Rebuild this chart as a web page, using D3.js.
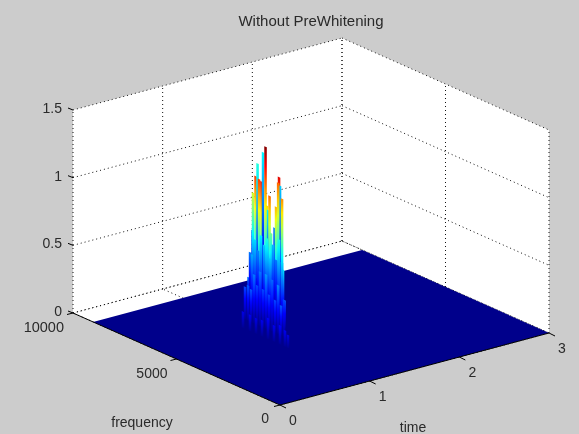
<!DOCTYPE html>
<html><head><meta charset="utf-8">
<script src="https://cdn.jsdelivr.net/npm/d3@7"></script>
<style>html,body{margin:0;padding:0;background:#ccc}svg{display:block;filter:blur(.35px)}text{font-family:"Liberation Sans",Arial,sans-serif;fill:#2a2a2a}</style>
</head><body><script>
const timeTicks=[0,1,2,3];
const freqTicks=[0,5000,10000];
const zTicks=[0,0.5,1,1.5];
const zTickLabels=["0","0.5","1","1.5"];
const surfaceTimeMax=3, surfaceFreqMax=9030;
// spectrogram ridges: [time, frequency, magnitude, colour value]
const ridgeBack=[
[1.4,7583,.18,.3],[1.4,7510,.37,.3],[1.4,7390,.54,.3],[1.4,7367,.82,.72],[1.4,7245,.95,1.0],
[1.4,7148,1.05,.5],[1.4,7076,.94,1.0],[1.4,6960,.93,1.05],[1.4,6883,1.15,.45],[1.4,6763,1.2,1.22],
[1.4,6690,.77,.8],[1.4,6641,.74,.45],[1.4,6569,.85,.95],[1.4,6496,.58,.6],[1.4,6327,.63,.3],
[1.4,6255,.79,.85],[1.4,6110,1.02,1.1],[1.39,6110,.98,.95],[1.4,6062,.96,.4],[1.4,5965,.87,.9],[1.4,5917,.35,.45]];
const ridgeMid=[
[1.25,6767,.43,.36],[1.25,6622,.55,.42],[1.25,6477,.48,.32],[1.25,6332,.6,.45],[1.25,6187,.54,.4],
[1.25,6042,.6,.5],[1.25,5897,.46,.4],[1.25,5752,.57,.38],[1.25,5607,.47,.3],[1.25,5463,.63,.5],[1.25,5318,.47,.42],[1.25,5197,.2,.3]];
const ridgeFront=[
[1.1,6453,.24,.24],[1.1,6308,.26,.26],[1.1,6163,.24,.26],[1.1,6018,.36,.3],[1.1,5873,.29,.24],[1.1,5728,.4,.3],
[1.1,5583,.28,.24],[1.1,5439,.4,.34],[1.1,5294,.26,.24],[1.1,5149,.38,.28],[1.1,5004,.24,.24],[1.1,4859,.36,.32],[1.1,4714,.22,.26],[1.1,4569,.27,.24]];
const ridgeLow=[
[.95,5902,.12,.12],[.95,5564,.12,.13],[.95,5274,.115,.12],[.95,4985,.12,.13],[.95,4695,.155,.15],[.95,4405,.12,.13],[.95,4115,.14,.15],[.95,3874,.12,.13],[.95,3730,.095,.11]];

const W=579,H=434;
const O=[280,405];
const tx=d3.scaleLinear().domain([0,3]).range([0,269]);
const ty=d3.scaleLinear().domain([0,3]).range([0,-72]);
const fx=d3.scaleLinear().domain([0,10000]).range([0,-207]);
const fy=d3.scaleLinear().domain([0,10000]).range([0,-92]);
const zy=d3.scaleLinear().domain([0,1.5]).range([0,-203]);
const P=(t,f,z=0)=>[O[0]+tx(t)+fx(f),O[1]+ty(t)+fy(f)+zy(z)];
const jetStops=[[0,[0,0,143]],[.125,[0,0,255]],[.375,[0,255,255]],[.625,[255,255,0]],[.875,[255,0,0]],[1,[128,0,0]]];
const jetS=d3.scaleLinear().domain(jetStops.map(d=>d[0])).range(jetStops.map(d=>d3.rgb(...d[1]).toString())).clamp(true);
const jet=v=>jetS(v/1.22);

const svg=d3.select("body").append("svg").attr("width",W).attr("height",H);
const defs=svg.append("defs");
svg.append("rect").attr("width",W).attr("height",H).attr("fill","#cccccc");
const poly=pts=>pts.map(p=>p.map(v=>v.toFixed(2)).join(",")).join(" ");
// walls
const tM=3,fM=10000,zM=1.5;
svg.append("polygon").attr("points",poly([P(0,fM),P(tM,fM),P(tM,fM,zM),P(0,fM,zM)])).attr("fill","#fff");
svg.append("polygon").attr("points",poly([P(tM,fM),P(tM,0),P(tM,0,zM),P(tM,fM,zM)])).attr("fill","#fff");
svg.append("polygon").attr("points",poly([P(0,0),P(tM,0),P(tM,fM),P(0,fM)])).attr("fill","#fff");
// grid
const grid=svg.append("g").attr("fill","none").attr("stroke","#111").attr("stroke-width",1).attr("stroke-dasharray","1 3");
const seg=(a,b)=>grid.append("line").attr("x1",a[0]).attr("y1",a[1]).attr("x2",b[0]).attr("y2",b[1]);
timeTicks.forEach(t=>{seg(P(t,fM),P(t,fM,zM));seg(P(t,0),P(t,fM));});
freqTicks.forEach(f=>{seg(P(tM,f),P(tM,f,zM));seg(P(0,f),P(tM,f));});
zTicks.forEach(z=>{seg(P(0,fM,z),P(tM,fM,z));seg(P(tM,fM,z),P(tM,0,z));});
// surface floor
svg.append("polygon").attr("points",poly([P(0,0),P(surfaceTimeMax,0),P(surfaceTimeMax,surfaceFreqMax),P(0,surfaceFreqMax)])).attr("fill","#00008b");
// ridges, back to front
const ridges=[...ridgeBack,...ridgeMid,...ridgeFront,...ridgeLow].slice()
 .sort((a,b)=>d3.descending(a[0],b[0])||d3.descending(a[1],b[1]));
const hw=62;
svg.append("g").selectAll("polygon").data(ridges).join("polygon")
 .attr("points",d=>poly([P(d[0],d[1]+hw),P(d[0],d[1]-hw),P(d[0],d[1]-hw,d[2]),P(d[0],d[1]+hw,d[2])]))
 .attr("fill",(d,i)=>{
   const id="g"+i;
   const g=defs.append("linearGradient").attr("id",id).attr("x1",0).attr("y1",1).attr("x2",0).attr("y2",0);
   d3.range(0,1.001,.125).forEach(o=>g.append("stop").attr("offset",o).attr("stop-color",jet(d[3]*o)));
   return `url(#${id})`;
 });
// axis lines
const ax=svg.append("g").attr("stroke","#000").attr("fill","none");
const aln=(a,b)=>ax.append("line").attr("x1",a[0]).attr("y1",a[1]).attr("x2",b[0]).attr("y2",b[1]);
aln(P(0,0),P(0,fM));aln(P(0,0),P(tM,0));
timeTicks.forEach(t=>{const p=P(t,0);aln(p,[p[0]+6,p[1]+3]);});
freqTicks.forEach(f=>{const p=P(0,f);aln(p,[p[0]-6,p[1]+1.5]);});
zTicks.forEach(z=>{const p=P(0,fM,z);aln(p,[p[0]-5,p[1]-2]);});
// labels
const fs=14;
const txt=(x,y,s,a="middle",sz=fs)=>svg.append("text").attr("x",x).attr("y",y).attr("text-anchor",a).attr("font-size",sz).text(s);
timeTicks.forEach(t=>{const p=P(t,0);txt(p[0]+13,p[1]+20,String(t));});
freqTicks.forEach(f=>{const p=P(0,f);txt(p[0]-(f===0?11:9),p[1]+(f===0?18:19),String(f),"end",f===10000?14.5:14);});
zTicks.forEach((z,i)=>{const p=P(0,fM,z);txt(p[0]-11,p[1]+3,zTickLabels[i],"end");});
txt(142,427,"frequency");
txt(413,431.5,"time");
txt(311,26,"Without PreWhitening","middle",15);
</script></body></html>
